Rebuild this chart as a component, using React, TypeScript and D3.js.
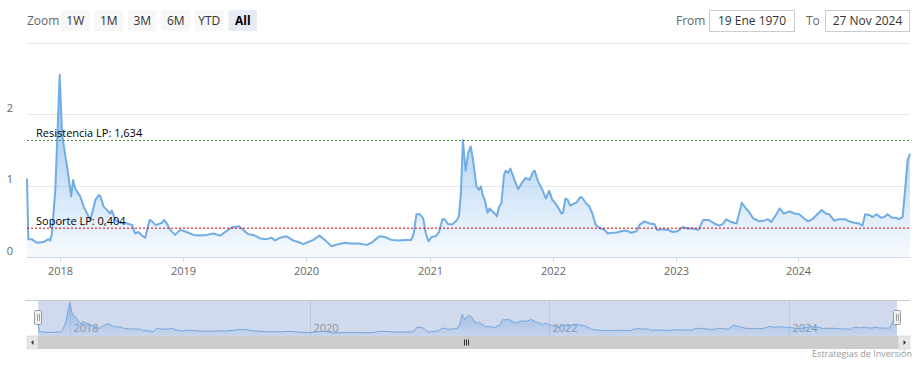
import React from "react";
import * as d3 from "d3";

const dates: string[] = [
  "2017-09-24","2017-09-28","2017-10-08","2017-10-23","2017-11-12","2017-11-27","2017-12-02","2017-12-07","2017-12-17","2017-12-30",
  "2018-01-06","2018-01-16","2018-01-21","2018-02-02","2018-02-08","2018-02-14","2018-03-01","2018-03-11","2018-03-21","2018-03-31",
  "2018-04-15","2018-04-25","2018-04-30","2018-05-09","2018-05-19","2018-05-29","2018-06-03","2018-06-13","2018-06-28","2018-07-18",
  "2018-08-02","2018-08-11","2018-08-21","2018-08-31","2018-09-10","2018-09-23","2018-09-30","2018-10-10","2018-10-19","2018-10-30",
  "2018-11-05","2018-11-13","2018-11-23","2018-12-08","2018-12-23","2019-01-11","2019-01-31","2019-02-20","2019-03-12","2019-03-31",
  "2019-04-20","2019-05-20","2019-05-30","2019-06-16","2019-06-28","2019-07-13","2019-07-28","2019-08-17","2019-09-06","2019-09-20",
  "2019-09-30","2019-10-15","2019-11-04","2019-11-24","2019-12-08","2019-12-23","2020-01-07","2020-01-22","2020-02-09","2020-02-25",
  "2020-03-16","2020-04-05","2020-04-25","2020-05-10","2020-06-03","2020-06-28","2020-07-13","2020-07-23","2020-08-05","2020-08-21",
  "2020-09-10","2020-09-30","2020-10-24","2020-11-08","2020-11-15","2020-11-23","2020-12-03","2020-12-13","2020-12-21","2020-12-29",
  "2021-01-07","2021-01-19","2021-01-29","2021-02-08","2021-02-15","2021-02-25","2021-03-10","2021-03-22","2021-03-29","2021-04-04",
  "2021-04-10","2021-04-15","2021-04-18","2021-04-25","2021-05-03","2021-05-10","2021-05-20","2021-05-28","2021-06-02","2021-06-09",
  "2021-06-14","2021-06-22","2021-06-28","2021-07-13","2021-07-20","2021-07-26","2021-08-02","2021-08-10","2021-08-15","2021-08-22",
  "2021-08-29","2021-09-06","2021-09-21","2021-10-01","2021-10-13","2021-10-25","2021-11-04","2021-11-09","2021-11-19","2021-12-02",
  "2021-12-12","2021-12-22","2021-12-31","2022-01-07","2022-01-17","2022-01-27","2022-02-01","2022-02-08","2022-02-15","2022-02-22",
  "2022-03-07","2022-03-14","2022-03-24","2022-03-30","2022-04-11","2022-04-19","2022-04-29","2022-05-09","2022-05-20","2022-06-04",
  "2022-06-14","2022-06-24","2022-07-09","2022-07-24","2022-08-08","2022-08-23","2022-09-07","2022-09-16","2022-10-01","2022-10-16",
  "2022-10-31","2022-11-07","2022-11-25","2022-12-10","2022-12-24","2023-01-07","2023-01-22","2023-02-06","2023-02-21","2023-03-10",
  "2023-03-24","2023-04-09","2023-04-26","2023-05-11","2023-05-21","2023-05-31","2023-06-15","2023-07-01","2023-07-17","2023-07-29",
  "2023-08-06","2023-08-20","2023-09-07","2023-09-22","2023-10-02","2023-10-12","2023-10-25","2023-11-06","2023-11-18","2023-12-05",
  "2023-12-20","2024-01-03","2024-01-18","2024-01-30","2024-02-11","2024-02-26","2024-03-10","2024-03-22","2024-04-01","2024-04-16",
  "2024-04-30","2024-05-18","2024-05-30","2024-06-14","2024-06-29","2024-07-09","2024-07-17","2024-07-29","2024-08-08","2024-08-20",
  "2024-09-02","2024-09-12","2024-09-21","2024-10-05","2024-10-16","2024-10-26","2024-11-05","2024-11-13","2024-11-20","2024-11-27",
];

const values: number[] = [
  1.10,0.25,0.25,0.20,0.21,0.25,0.23,0.33,0.94,2.55,
  1.73,1.41,1.27,0.85,1.08,0.96,0.85,0.71,0.61,0.52,
  0.80,0.87,0.85,0.71,0.66,0.61,0.65,0.52,0.48,0.47,
  0.45,0.33,0.35,0.30,0.27,0.52,0.50,0.45,0.46,0.48,
  0.52,0.47,0.38,0.31,0.38,0.35,0.31,0.30,0.31,0.33,
  0.30,0.40,0.42,0.43,0.38,0.32,0.31,0.26,0.25,0.27,
  0.23,0.27,0.29,0.23,0.21,0.18,0.21,0.24,0.30,0.24,
  0.15,0.18,0.20,0.19,0.19,0.17,0.20,0.24,0.29,0.28,
  0.24,0.23,0.24,0.24,0.33,0.60,0.60,0.54,0.33,0.22,
  0.28,0.29,0.35,0.53,0.53,0.46,0.46,0.51,0.57,0.90,
  1.64,1.36,1.21,1.45,1.55,1.36,0.99,0.94,0.99,0.85,
  0.80,0.62,0.68,0.61,0.57,0.70,0.75,1.15,1.21,1.18,
  1.24,1.13,0.95,1.03,1.11,1.08,1.19,1.21,1.06,0.94,
  0.82,0.93,0.80,0.77,0.70,0.61,0.62,0.82,0.80,0.72,
  0.75,0.77,0.84,0.83,0.75,0.72,0.61,0.45,0.41,0.38,
  0.33,0.34,0.34,0.36,0.37,0.34,0.36,0.45,0.50,0.47,
  0.46,0.38,0.39,0.38,0.35,0.36,0.42,0.40,0.40,0.38,
  0.52,0.52,0.47,0.44,0.46,0.53,0.49,0.47,0.76,0.68,
  0.64,0.54,0.50,0.51,0.53,0.49,0.58,0.68,0.61,0.64,
  0.61,0.60,0.54,0.50,0.53,0.60,0.66,0.61,0.60,0.51,
  0.53,0.53,0.50,0.48,0.47,0.44,0.60,0.59,0.56,0.60,
  0.55,0.56,0.60,0.55,0.55,0.53,0.56,0.97,1.36,1.45,
];

const yTicks: number[] = [0, 1, 2, 3];
const yTickLabels: string[] = ["0", "1", "2", ""];
const xTickYears: number[] = [2018, 2019, 2020, 2021, 2022, 2023, 2024];
const navTickYears: number[] = [2018, 2020, 2022, 2024];
const zoomButtons: string[] = ["1W", "1M", "3M", "6M", "YTD", "All"];
const resistance = { label: "Resistencia LP: 1,634", value: 1.634 };
const support = { label: "Soporte LP: 0,404", value: 0.404 };
const fromText = "19 Ene 1970";
const toText = "27 Nov 2024";
const credits = "Estrategias de Inversión";

const FONT = "'Open Sans', 'DejaVu Sans', sans-serif";

export default function App() {
  const parse = d3.timeParse("%Y-%m-%d");
  const data = dates.map((d, i) => ({ date: parse(d) as Date, value: values[i] }));
  const extent = d3.extent(data, (d) => d.date) as [Date, Date];

  const x = d3.scaleTime().domain(extent).range([27, 910]);
  const y = d3.scaleLinear().domain([0, 3]).range([257, 43]);

  const line = d3.line<any>().x((d) => x(d.date)).y((d) => y(d.value));
  const area = d3.area<any>().x((d) => x(d.date)).y0(y(0)).y1((d) => y(d.value));

  const nx = d3.scaleTime().domain(extent).range([38, 897]);
  const ny = d3.scaleLinear().domain([0, d3.max(values) as number]).range([335, 302.5]);
  const nLine = d3.line<any>().x((d) => nx(d.date)).y((d) => ny(d.value));
  const nArea = d3.area<any>().x((d) => nx(d.date)).y0(336).y1((d) => ny(d.value));

  const btnX = (i: number) => 61 + i * 33.5;

  return (
    <svg width={924} height={369} style={{ position: "absolute", left: 0, top: 0, background: "#fff" }} fontFamily={FONT}>
      <defs>
        <linearGradient id="areaGrad" x1="0" y1="0" x2="0" y2="1">
          <stop offset="0%" stopColor="#7cb5ec" stopOpacity={0.85} />
          <stop offset="100%" stopColor="#7cb5ec" stopOpacity={0.06} />
        </linearGradient>
        <linearGradient id="navGrad" x1="0" y1="0" x2="0" y2="1">
          <stop offset="0%" stopColor="#7cb5ec" stopOpacity={0.7} />
          <stop offset="100%" stopColor="#7cb5ec" stopOpacity={0.1} />
        </linearGradient>
      </defs>

      {/* range selector */}
      <text x={27} y={24.5} fontSize={12} fill="#666">Zoom</text>
      {zoomButtons.map((b, i) => (
        <g key={b}>
          <rect x={btnX(i)} y={10} width={28.5} height={21} fill={b === "All" ? "#e6ebf5" : "#f7f7f7"} />
          <text x={btnX(i) + 14.25} y={24.5} fontSize={12} textAnchor="middle" fill={b === "All" ? "#000" : "#333"} fontWeight={b === "All" ? "bold" : "normal"}>{b}</text>
        </g>
      ))}
      <text x={676} y={24.5} fontSize={12} fill="#666">From</text>
      <rect x={709.5} y={10.5} width={85} height={21} fill="#fff" stroke="#cccccc" />
      <text x={752} y={25} fontSize={12} textAnchor="middle" fill="#333">{fromText}</text>
      <text x={806} y={24.5} fontSize={12} fill="#666">To</text>
      <rect x={825.5} y={10.5} width={84} height={21} fill="#fff" stroke="#cccccc" />
      <text x={867.5} y={25} fontSize={12} textAnchor="middle" fill="#333">{toText}</text>

      {/* grid */}
      {yTicks.map((t, i) => (
        <g key={t}>
          <line x1={27} x2={910} y1={Math.round(y(t)) + 0.5} y2={Math.round(y(t)) + 0.5} stroke={t === 0 ? "#ccd6eb" : "#e6e6e6"} />
          {yTickLabels[i] && (
            <text x={13} y={y(t) - 2.5} fontSize={11} textAnchor="end" fill="#666">{yTickLabels[i]}</text>
          )}
        </g>
      ))}

      {/* series */}
      <path d={area(data) as string} fill="url(#areaGrad)" />
      <path d={line(data) as string} fill="none" stroke="#72ace4" strokeWidth={2} strokeLinejoin="round" />

      {/* plot lines */}
      <line x1={27} x2={910} y1={y(resistance.value)} y2={y(resistance.value)} stroke="#4f8a3c" strokeDasharray="2,2" />
      <text x={36} y={y(resistance.value) - 3.5} fontSize={11} fill="#000">{resistance.label}</text>
      <line x1={27} x2={910} y1={y(support.value)} y2={y(support.value)} stroke="#d10000" strokeDasharray="2,2" />
      <text x={36} y={y(support.value) - 3.5} fontSize={11} fill="#000">{support.label}</text>

      {/* x axis */}
      {xTickYears.map((yr) => {
        const px = Math.round(x(new Date(yr, 0, 1))) + 0.5;
        return (
          <g key={yr}>
            <line x1={px} x2={px} y1={257} y2={262} stroke="#ccd6eb" />
            <text x={px} y={275} fontSize={11} textAnchor="middle" fill="#666">{yr}</text>
          </g>
        );
      })}

      {/* navigator */}
      <rect x={38} y={300} width={859} height={36} fill="#fff" />
      {navTickYears.map((yr) => {
        const px = Math.round(nx(new Date(yr, 0, 1))) + 0.5;
        return (
          <g key={yr}>
            <line x1={px} x2={px} y1={300} y2={336} stroke="#e6e6e6" />
            <text x={px + 3} y={332} fontSize={11} fill="#999">{yr}</text>
          </g>
        );
      })}
      <path d={nArea(data) as string} fill="url(#navGrad)" />
      <path d={nLine(data) as string} fill="none" stroke="#7cb5ec" strokeWidth={1} />
      <rect x={38} y={300} width={859} height={36} fill="rgba(102,133,194,0.3)" />
      <line x1={25} x2={910} y1={300.5} y2={300.5} stroke="#cccccc" />
      {/* handles */}
      {[38, 897].map((hx, i) => (
        <g key={i}>
          <rect x={hx - 3.5} y={310.5} width={7} height={14} fill="#f2f2f2" stroke="#999" rx={1} />
          <line x1={hx - 0.5} x2={hx - 0.5} y1={314} y2={321} stroke="#999" />
          <line x1={hx + 1.5} x2={hx + 1.5} y1={314} y2={321} stroke="#999" />
        </g>
      ))}

      {/* scrollbar */}
      <rect x={27} y={336} width={883} height={13} fill="#f2f2f2" />
      <rect x={38} y={336} width={860} height={13} fill="#cccccc" />
      <rect x={27} y={336} width={11} height={13} fill="#e6e6e6" stroke="#cccccc" strokeWidth={0.5} />
      <rect x={898} y={336} width={12} height={13} fill="#e6e6e6" stroke="#cccccc" strokeWidth={0.5} />
      <path d="M 33.5 340 L 33.5 345 L 31 342.5 Z" fill="#333" />
      <path d="M 903.5 340 L 903.5 345 L 906 342.5 Z" fill="#333" />
      {[-2, 0, 2].map((o) => (
        <line key={o} x1={466.5 + o} x2={466.5 + o} y1={339.5} y2={345.5} stroke="#333" />
      ))}

      <text x={912} y={357} fontSize={9} textAnchor="end" fill="#999">{credits}</text>
    </svg>
  );
}
